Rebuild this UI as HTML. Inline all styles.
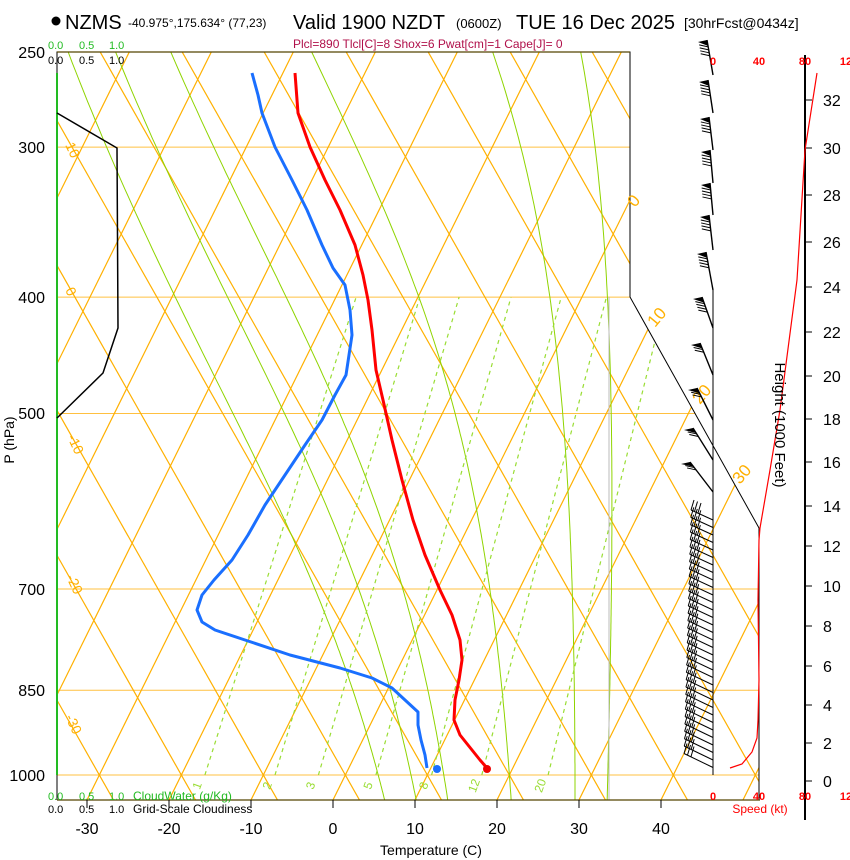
<!DOCTYPE html>
<html><head><meta charset="utf-8"><style>
html,body{margin:0;padding:0;background:#fff;}
svg{display:block;font-family:"Liberation Sans",Arial,sans-serif;}
</style></head><body>
<svg id="s" width="850" height="860" viewBox="0 0 850 860" xmlns="http://www.w3.org/2000/svg">
<defs><clipPath id="pc"><polygon points="57,52 630,52 630,297 759,528 759,800 57,800"/></clipPath></defs>
<g id="bg" clip-path="url(#pc)"></g>
<g id="fg"></g>
<circle cx="56" cy="21" r="4.5" fill="#000"/>
<text x="65" y="29" font-size="20">NZMS</text>
<text x="128" y="27" font-size="12">-40.975°,175.634° (77,23)</text>
<text x="293" y="29" font-size="20">Valid 1900 NZDT</text>
<text x="456" y="28" font-size="13">(0600Z)</text>
<text x="516" y="29" font-size="20">TUE 16 Dec 2025</text>
<text x="684" y="28" font-size="14">[30hrFcst@0434z]</text>
<text x="293" y="48" font-size="12" fill="#b0104a">Plcl=890 Tlcl[C]=8 Shox=6 Pwat[cm]=1 Cape[J]= 0</text>
<g font-size="11" fill="#22bb22"><text x="48" y="49">0.0</text><text x="79" y="49">0.5</text><text x="109" y="49">1.0</text></g>
<g font-size="11" fill="#000"><text x="48" y="64">0.0</text><text x="79" y="64">0.5</text><text x="109" y="64">1.0</text></g>
<g font-size="11" fill="#22bb22"><text x="48" y="800">0.0</text><text x="79" y="800">0.5</text><text x="109" y="800">1.0</text><text x="133" y="800" font-size="12">CloudWater (g/Kg)</text></g>
<g font-size="11" fill="#000"><text x="48" y="813">0.0</text><text x="79" y="813">0.5</text><text x="109" y="813">1.0</text><text x="133" y="813" font-size="12">Grid-Scale Cloudiness</text></g>
<g font-size="16" text-anchor="end"><text x="45" y="58">250</text><text x="45" y="153">300</text><text x="45" y="303">400</text><text x="45" y="419">500</text><text x="45" y="595">700</text><text x="45" y="696">850</text><text x="45" y="781">1000</text></g>
<text transform="translate(14,440) rotate(-90)" font-size="14" text-anchor="middle">P (hPa)</text>
<g font-size="16" text-anchor="middle"><text x="87" y="834">-30</text><text x="169" y="834">-20</text><text x="251" y="834">-10</text><text x="333" y="834">0</text><text x="415" y="834">10</text><text x="497" y="834">20</text><text x="579" y="834">30</text><text x="661" y="834">40</text></g>
<text x="431" y="855" font-size="14" text-anchor="middle">Temperature (C)</text>
<g font-size="11" font-weight="bold" fill="#f00" text-anchor="middle"><text x="713" y="65">0</text><text x="759" y="65">40</text><text x="805" y="65">80</text><text x="846" y="65">12</text><text x="713" y="800">0</text><text x="759" y="800">40</text><text x="805" y="800">80</text><text x="846" y="800">12</text></g>
<text x="760" y="813" font-size="12" fill="#f00" text-anchor="middle">Speed (kt)</text>
<text transform="translate(775,425) rotate(90)" font-size="15" text-anchor="middle">Height (1000 Feet)</text>
</svg>
<script>
(function(){
var NS="http://www.w3.org/2000/svg";
var bg=document.getElementById('bg'),fg=document.getElementById('fg');
function el(par,tag,at){var e=document.createElementNS(NS,tag);for(var k in at)e.setAttribute(k,at[k]);par.appendChild(e);return e;}
function Y(p){return 775-521.5*Math.log(1000/p);}
function X(T,p){var y=Y(p);return 333+8.2*T+0.495*(800-y);}
function pl(par,pts,st){var d='';for(var i=0;i<pts.length;i++)d+=(i?'L':'M')+pts[i][0].toFixed(1)+','+pts[i][1].toFixed(1);st.d=d;st.fill='none';return el(par,'path',st);}
var OR='#ffb000',GR='#8fd400';
[250,300,400,500,700,850,1000].forEach(function(p){el(bg,'line',{x1:57,x2:800,y1:Y(p),y2:Y(p),stroke:'#ffc040','stroke-width':1});});
for(var T=-120;T<=60;T+=10){pl(bg,[[X(T,1060),Y(1060)],[X(T,240),Y(240)]],{stroke:OR,'stroke-width':1.2});}
// straight dry adiabats
for(var L=-60;L<=150;L+=10){var x0=X(L,1000),y0=775;
 pl(bg,[[x0+0.566*(820-y0)*-1*-1,820],[x0-0.566*(775-40),40]],{stroke:OR,'stroke-width':1.2});}
function es(T){return 6.112*Math.exp(17.67*T/(T+243.5));}
function dTdp(T,p){var Tk=T+273.15,e=es(T),r=0.622*e/(p-e),Lv=2.5e6,Rd=287,cp=1004;
 var num=(Rd*Tk+Lv*r)/p, den=cp+Lv*Lv*r*0.622/(Rd*Tk*Tk);return num/den;}
[4,8,12,20,28,32].forEach(function(T0){var Tb=T0;for(var q=1000;q<1060;q+=1){Tb+=dTdp(Tb,q);} var T=Tb,pts=[];
 for(var p=1060;p>=240;p-=1){if((p%5)==0)pts.push([X(T,p),Y(p)]);T-=dTdp(T,p);}
 pl(bg,pts,{stroke:GR,'stroke-width':1});});
function tdw(w,p){var e=w*p/(622+w),l=Math.log(e/6.112);return 243.5*l/(17.67-l);}
[1,2,3,5,8,12,20].forEach(function(w){pl(bg,[[X(tdw(w,1000),1000),Y(1000)],[X(tdw(w,400),400),Y(400)]],{stroke:'#99dd33','stroke-width':1.2,'stroke-dasharray':'4,4'});
 var x=X(tdw(w,1000),1000)-4,y=Y(1000)+12;var t=el(fg,'text',{x:x,y:y,'font-size':12,fill:'#99dd33',transform:'rotate(-70 '+x+' '+y+')','text-anchor':'middle'});t.textContent=w;});
el(bg,'line',{x1:609,x2:609,y1:297,y2:800,stroke:'#bbb','stroke-width':1});
pl(fg,[[57,800],[57,52],[630,52],[630,297],[759,528],[759,800]],{stroke:'#000','stroke-width':1});
el(fg,'line',{x1:57,x2:760,y1:800,y2:800,stroke:'#554400','stroke-width':1.2});
el(fg,'line',{x1:57,x2:630,y1:52,y2:52,stroke:'#554400','stroke-width':1.2});
[87,169,251,333,415,497,579,661].forEach(function(x){el(fg,'line',{x1:x,x2:x,y1:800,y2:808,stroke:'#000'});});
el(fg,'line',{x1:57,x2:57,y1:73,y2:775,stroke:'#22bb22','stroke-width':2});
[[65,145,'10'],[65,290,'0'],[67,437,'-10'],[66,577,'-20'],[65,717,'-30']].forEach(function(a){var t=el(fg,'text',{x:a[0],y:a[1],'font-size':14,fill:OR,transform:'rotate(65 '+a[0]+' '+a[1]+')'});t.textContent=a[2];});
[[635,208,'0'],[655,328,'10'],[700,405,'20'],[740,485,'30']].forEach(function(a){var t=el(fg,'text',{x:a[0],y:a[1],'font-size':17,fill:OR,transform:'rotate(-50 '+a[0]+' '+a[1]+')'});t.textContent=a[2];});
pl(fg,[[57,113],[117,148],[118,328],[103,373],[57,418]],{stroke:'#000','stroke-width':1.5});
var tp=[[295,73],[298,113],[310,147],[325,180],[340,210],[355,245],[363,275],[368,300],[372,330],[376,370],[383,400],[392,440],[402,480],[413,520],[425,555],[440,590],[452,615],[460,640],[462,660],[459,680],[455,700],[454,720],[460,735],[472,750],[480,760],[487,768]];
pl(fg,tp,{stroke:'#f00','stroke-width':3,'stroke-linejoin':'round'});
el(fg,'circle',{cx:487,cy:769,r:4,fill:'#e00'});
var dp=[[252,73],[258,95],[262,113],[275,147],[292,180],[307,210],[322,245],[333,268],[345,285],[350,310],[352,335],[349,355],[346,375],[335,395],[322,420],[305,445],[285,475],[265,505],[248,535],[232,560],[214,580],[202,595],[197,610],[202,622],[215,630],[245,640],[290,655],[340,668],[372,678],[392,688],[405,700],[418,712],[418,725],[421,740],[425,755],[427,768]];
pl(fg,dp,{stroke:'#1a6fff','stroke-width':3,'stroke-linejoin':'round'});
el(fg,'circle',{cx:437,cy:769,r:4,fill:'#1a6fff'});
el(fg,'line',{x1:713,x2:713,y1:290,y2:775,stroke:'#000','stroke-width':1});
// upper barbs: base (713,yb) -> tip (tx,ty)
[[75,707,40],[113,708,80],[150,709,117],[183,710,150],[215,710,183],[250,709,215],[290,706,252],[328,702,297],[375,700,343],[420,697,388],[460,693,428],[492,690,462]].forEach(function(b,i){
 var tx=b[1],ty=b[2];
 pl(fg,[[713,b[0]],[tx,ty]],{stroke:'#000','stroke-width':1.4});
 var dx=713-tx,dy=b[0]-ty,Ln=Math.sqrt(dx*dx+dy*dy),ux=dx/Ln,uy=dy/Ln;
 el(fg,'polygon',{points:tx+','+ty+' '+(tx-9)+','+(ty+2)+' '+(tx+ux*6)+','+(ty+uy*6),fill:'#000'});
 var nf=i<8?4:2;
 for(var k=1;k<=nf;k++){var sx=tx+ux*(4+3*k),sy=ty+uy*(4+3*k);el(fg,'line',{x1:sx,y1:sy,x2:sx-9,y2:sy-2,stroke:'#000','stroke-width':1});}
});
for(var y=520;y<=768;y+=7.5){var f=(y-520)/248;var tx=691-7*f,ty=y-10-4*f;
 el(fg,'line',{x1:713,y1:y,x2:tx,y2:ty,stroke:'#000','stroke-width':1});
 for(var k=0;k<3;k++){var sx=tx+k*3.5,sy=ty+k*1.5;el(fg,'line',{x1:sx,y1:sy,x2:sx+3,y2:sy-10,stroke:'#000','stroke-width':1});}
}
el(fg,'line',{x1:805,x2:805,y1:55,y2:820,stroke:'#000','stroke-width':2});
var hy={0:781,2:743,4:705,6:666,8:626,10:586,12:546,14:506,16:462,18:419,20:376,22:332,24:287,26:242,28:195,30:148,32:100};
for(var h in hy){el(fg,'line',{x1:805,x2:812,y1:hy[h],y2:hy[h],stroke:'#000'});var t=el(fg,'text',{x:823,y:hy[h]+6,'font-size':16});t.textContent=h;}
pl(fg,[[730,768],[742,764],[752,752],[757,738],[758,720],[759,680],[758,600],[759,540],[760,528],[770,470],[780,410],[797,280],[805,150],[817,73]],{stroke:'#f00','stroke-width':1.2});
})();
</script>
</body></html>
